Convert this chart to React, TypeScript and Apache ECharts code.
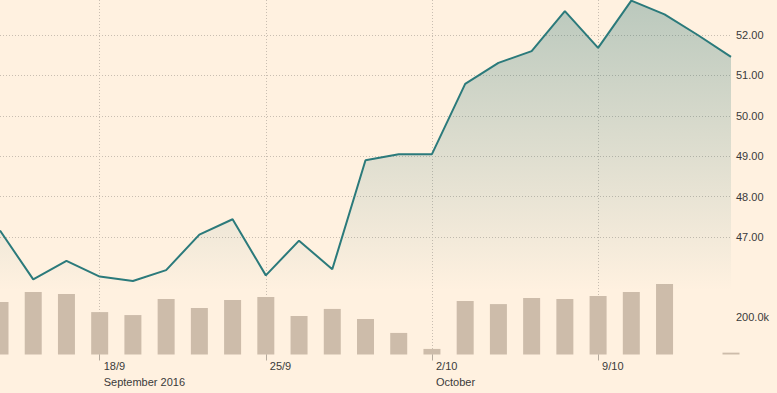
import React, { useEffect, useRef } from "react";
import * as echarts from "echarts";

// Trading days (category axis)
const categories = [
  "14/9", "15/9", "16/9", "19/9", "20/9", "21/9", "22/9", "23/9",
  "26/9", "27/9", "28/9", "29/9", "30/9", "3/10", "4/10", "5/10",
  "6/10", "7/10", "10/10", "11/10", "12/10", "13/10", "14/10",
];
// Closing prices
const prices = [
  47.16, 45.95, 46.41, 46.02, 45.91, 46.18, 47.06, 47.44, 46.05, 46.91,
  46.2, 48.9, 49.05, 49.05, 50.79, 51.31, 51.6, 52.59, 51.68, 52.85,
  52.51, 52.0, 51.46,
];
// Volumes
const volumes: (number | null)[] = [
  282000, 336000, 325000, 228000, 212000, 298000, 250000, 293000, 309000,
  207000, 245000, 191000, 116000, 30000, 288000, 271000, 304000, 298000,
  315000, 336000, 379000, null, 10000,
];
// Week tick positions (category index) and their labels
const weekTickIndex = [3, 8, 13, 18];
const weekTickLabels = ["18/9\nSeptember 2016", "25/9", "2/10\nOctober", "9/10"];
// Price axis ticks
const priceMin = 47;
const priceMax = 52;
const priceStep = 1;
// Volume axis ticks
const volMin = 0;
const volMax = 400000;
const volStep = 200000;
const volLabel = "200.0k";

const BG = "#fff1e0";
const GRID_COLOR = "#c9beb1";
const TEXT = "#3a3a3a";
const FONT = "'Liberation Sans', Arial, sans-serif";

export default function App() {
  const ref = useRef<HTMLDivElement>(null);
  useEffect(() => {
    if (!ref.current) return;
    const chart = echarts.init(ref.current, undefined, { renderer: "svg" });
    const isTick = (i: number) => weekTickIndex.indexOf(i) >= 0;
    const dotted = { color: GRID_COLOR, type: [1, 2] as number[], width: 1 };
    const plotW = 731;
    // price plot: 47 at y=237, 40.4 px per unit, spans y 0..355
    const pxPerUnit = 40.4;
    const lineAxisMax = priceMin + 237 / pxPerUnit;
    const lineAxisMin = priceMin - (355 - 237) / pxPerUnit;

    chart.setOption({
      animation: false,
      backgroundColor: BG,
      textStyle: { fontFamily: FONT },
      grid: [
        { left: 0, top: 0, width: plotW, height: 355 },
        { left: 0, top: 35, width: plotW, height: 202 },
        { left: 0, top: 280.1, width: plotW, height: 74.4 },
      ],
      xAxis: [
        {
          gridIndex: 0,
          type: "category",
          data: categories,
          boundaryGap: false,
          axisLine: { show: false },
          axisTick: { show: false },
          axisLabel: { show: false },
          splitLine: {
            show: true,
            interval: (i: number) => isTick(i),
            lineStyle: dotted,
          },
        },
        {
          gridIndex: 1,
          type: "category",
          data: categories,
          boundaryGap: false,
          show: false,
        },
        {
          gridIndex: 2,
          type: "category",
          data: categories,
          boundaryGap: false,
          axisLine: { show: false },
          axisTick: {
            show: true,
            interval: (i: number) => isTick(i),
            length: 6,
            lineStyle: { color: "#b5aa9d", width: 1 },
          },
          axisLabel: {
            show: true,
            interval: (i: number) => isTick(i),
            formatter: (_v: string, i: number) => {
              const k = weekTickIndex.indexOf(i);
              return k >= 0 ? weekTickLabels[k] : "";
            },
            align: "left",
            verticalAlign: "top",
            lineHeight: 16,
            margin: 3,
            padding: [0, 0, 0, 4],
            color: TEXT,
            fontSize: 11,
            fontFamily: FONT,
          },
          splitLine: { show: false },
        },
      ],
      yAxis: [
        {
          gridIndex: 0,
          type: "value",
          min: lineAxisMin,
          max: lineAxisMax,
          show: false,
          splitLine: { show: false },
        },
        {
          gridIndex: 1,
          type: "value",
          position: "right",
          min: priceMin,
          max: priceMax,
          interval: priceStep,
          axisLine: { show: false },
          axisTick: { show: false },
          axisLabel: {
            formatter: (v: number) => v.toFixed(2),
            color: TEXT,
            fontSize: 11,
            fontFamily: FONT,
            margin: 5,
          },
          splitLine: { show: true, lineStyle: dotted },
        },
        {
          gridIndex: 2,
          type: "value",
          position: "right",
          min: volMin,
          max: volMax,
          interval: volStep,
          axisLine: { show: false },
          axisTick: { show: false },
          axisLabel: {
            formatter: (v: number) => (v === volStep ? volLabel : ""),
            showMinLabel: false,
            showMaxLabel: false,
            color: TEXT,
            fontSize: 11,
            fontFamily: FONT,
            margin: 5,
          },
          splitLine: {
            show: true,
            showMinLine: false,
            showMaxLine: false,
            lineStyle: {
              ...dotted,
              color: ["rgba(0,0,0,0)", GRID_COLOR, "rgba(0,0,0,0)"],
            },
          },
        },
      ],
      series: [
        {
          type: "bar",
          xAxisIndex: 2,
          yAxisIndex: 2,
          data: volumes,
          barWidth: 17,
          itemStyle: { color: "#cdbcaa" },
          z: 2,
        },
        {
          type: "line",
          xAxisIndex: 0,
          yAxisIndex: 0,
          data: prices,
          symbol: "none",
          lineStyle: { color: "#2b7a7b", width: 2 },
          areaStyle: {
            color: new echarts.graphic.LinearGradient(0, 0, 0, 1, [
              { offset: 0, color: "rgba(42,115,115,0.46)" },
              { offset: 0.82, color: "rgba(42,115,115,0)" },
            ]),
          },
          z: 3,
        },
      ],
    });
    return () => chart.dispose();
  }, []);
  return (
    <div
      ref={ref}
      style={{ position: "absolute", left: 0, top: 0, width: 777, height: 393, background: BG }}
    />
  );
}
